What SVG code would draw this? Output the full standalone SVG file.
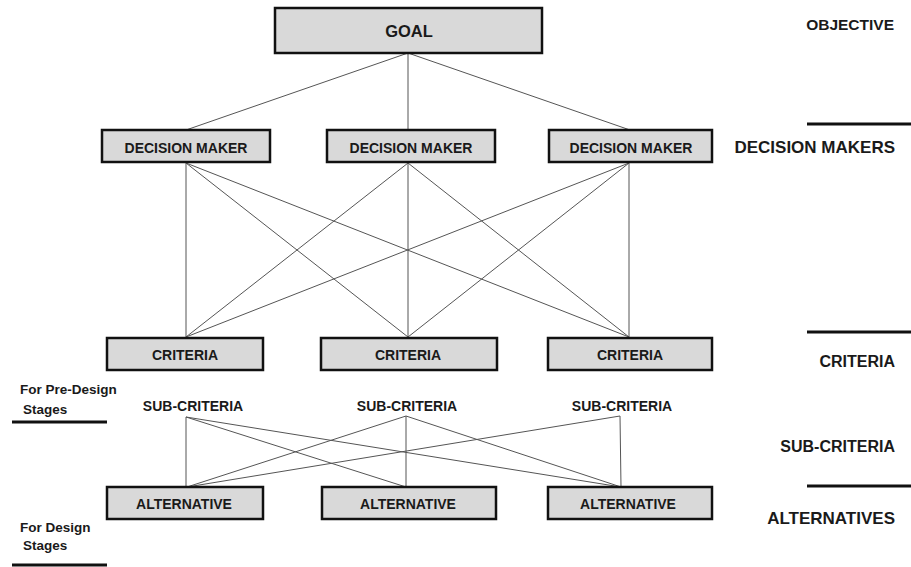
<svg xmlns="http://www.w3.org/2000/svg" width="911" height="567" viewBox="0 0 911 567">
<style>
.box{fill:#d9d9d9;stroke:#111;stroke-width:2.5}
.t{font-family:"Liberation Sans",Arial,sans-serif;font-weight:bold;fill:#1a1a1a;text-anchor:middle;font-size:14px}
.r{font-family:"Liberation Sans",Arial,sans-serif;font-weight:bold;fill:#1a1a1a;text-anchor:end;font-size:16px}
.l{font-family:"Liberation Sans",Arial,sans-serif;font-weight:bold;fill:#1a1a1a;font-size:13.5px}
.bar{stroke:#111;stroke-width:3}
#connectors line{stroke:#555;stroke-width:1}
</style>
<rect width="911" height="567" fill="#fff"/>
<g id="connectors">
<line x1="408" y1="53" x2="186" y2="130"/>
<line x1="408" y1="53" x2="408" y2="130"/>
<line x1="408" y1="53" x2="630" y2="130"/>
<line x1="186" y1="163" x2="186" y2="337"/>
<line x1="186" y1="163" x2="408" y2="337"/>
<line x1="186" y1="163" x2="629" y2="337"/>
<line x1="408" y1="163" x2="186" y2="337"/>
<line x1="408" y1="163" x2="408" y2="337"/>
<line x1="408" y1="163" x2="629" y2="337"/>
<line x1="629" y1="163" x2="186" y2="337"/>
<line x1="629" y1="163" x2="408" y2="337"/>
<line x1="629" y1="163" x2="629" y2="337"/>
<line x1="186" y1="417" x2="186" y2="487"/>
<line x1="186" y1="417" x2="406" y2="487"/>
<line x1="186" y1="417" x2="621" y2="487"/>
<line x1="406" y1="416" x2="187" y2="487"/>
<line x1="406" y1="416" x2="406" y2="487"/>
<line x1="406" y1="416" x2="621" y2="487"/>
<line x1="620" y1="416" x2="187" y2="487"/>
<line x1="620" y1="416" x2="621" y2="487"/>
</g>
<g id="goal"><rect class="box" x="275" y="8" width="267" height="45"/><text class="t" x="409" y="37" style="font-size:16.5px">GOAL</text></g>
<g id="dm1"><rect class="box" x="102" y="130" width="168" height="32"/><text class="t" x="186" y="153">DECISION MAKER</text></g>
<g id="dm2"><rect class="box" x="327" y="130" width="168" height="32"/><text class="t" x="411" y="153">DECISION MAKER</text></g>
<g id="dm3"><rect class="box" x="549" y="130" width="163" height="32"/><text class="t" x="631" y="153">DECISION MAKER</text></g>
<g id="crit1"><rect class="box" x="107" y="338" width="156" height="32"/><text class="t" x="185" y="360">CRITERIA</text></g>
<g id="crit2"><rect class="box" x="321" y="338" width="176" height="32"/><text class="t" x="408" y="360">CRITERIA</text></g>
<g id="crit3"><rect class="box" x="548" y="338" width="164" height="32"/><text class="t" x="630" y="360">CRITERIA</text></g>
<g id="sub1"><text class="t" x="193" y="411">SUB-CRITERIA</text></g>
<g id="sub2"><text class="t" x="407" y="411">SUB-CRITERIA</text></g>
<g id="sub3"><text class="t" x="622" y="411">SUB-CRITERIA</text></g>
<g id="alt1"><rect class="box" x="107" y="487" width="156" height="32"/><text class="t" x="184" y="509">ALTERNATIVE</text></g>
<g id="alt2"><rect class="box" x="322" y="487" width="174" height="32"/><text class="t" x="408" y="509">ALTERNATIVE</text></g>
<g id="alt3"><rect class="box" x="548" y="487" width="164" height="32"/><text class="t" x="628" y="509">ALTERNATIVE</text></g>
<g id="levels">
<text class="r" x="894" y="30" style="font-size:15.5px">OBJECTIVE</text>
<line class="bar" x1="807" y1="124" x2="911" y2="124"/>
<text class="r" x="895" y="153" style="font-size:17px">DECISION MAKERS</text>
<line class="bar" x1="807" y1="332" x2="911" y2="332"/>
<text class="r" x="895" y="367">CRITERIA</text>
<text class="r" x="895" y="452">SUB-CRITERIA</text>
<line class="bar" x1="807" y1="486" x2="911" y2="486"/>
<text class="r" x="895" y="524" style="font-size:17px">ALTERNATIVES</text>
<text class="l" x="20" y="394">For Pre-Design</text>
<text class="l" x="23" y="414">Stages</text>
<line class="bar" x1="12" y1="422" x2="107" y2="422"/>
<text class="l" x="20" y="532">For Design</text>
<text class="l" x="23" y="550">Stages</text>
<line class="bar" x1="12" y1="565" x2="107" y2="565"/>
</g>
</svg>
